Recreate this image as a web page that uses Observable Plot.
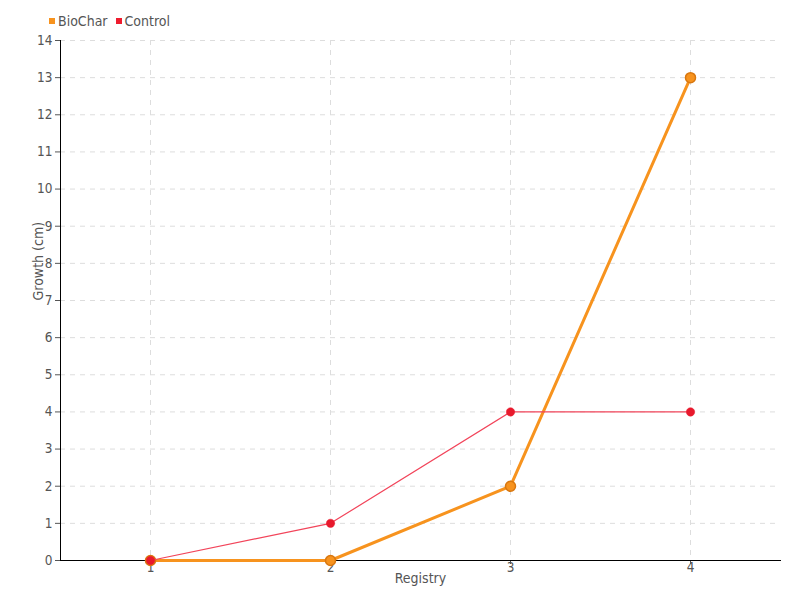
<!DOCTYPE html>
<html>
<head>
<meta charset="utf-8">
<script src="https://cdn.jsdelivr.net/npm/d3@7"></script>
<script src="https://cdn.jsdelivr.net/npm/@observablehq/plot@0.6"></script>
<style>
  body { margin: 0; background: #fff; }
  #wrap { position: relative; width: 800px; height: 600px; font-family: "DejaVu Sans", sans-serif; font-stretch: condensed; }
  #wrap svg text { font-stretch: condensed; }
  #legend { position: absolute; top: 13px; left: 49px; font-size: 14px; color: #555; display: flex; gap: 8px; align-items: center; }
  #legend span.sw { display: inline-block; width: 6px; height: 6px; margin-right: 3px; vertical-align: middle; position: relative; top: -1px; }
</style>
</head>
<body>
<div id="wrap"><div id="legend"></div></div>
<script>
const registry = ["1", "2", "3", "4"];
const bioChar = [0, 0, 2, 13];
const control = [0, 1, 4, 4];
const seriesNames = ["BioChar", "Control"];
const seriesColors = ["#f7931e", "#ee1c2e"];
const yTicks = d3.range(0, 15);

const bio = registry.map((r, i) => ({r, v: bioChar[i]}));
const ctl = registry.map((r, i) => ({r, v: control[i]}));

const plot = Plot.plot({
  width: 800,
  height: 600,
  marginLeft: 60,
  marginRight: 20,
  marginTop: 40,
  marginBottom: 40,
  style: {fontFamily: '"DejaVu Sans", sans-serif', fontSize: "13px", color: "#555", background: "#fff"},
  x: {type: "point", domain: registry, padding: 0.5},
  y: {domain: [0, 14]},
  marks: [
    Plot.gridX(registry, {stroke: "#ddd", strokeOpacity: 1, strokeDasharray: "5,5"}),
    Plot.gridY(yTicks, {stroke: "#ddd", strokeOpacity: 1, strokeDasharray: "5,5"}),
    Plot.axisY({ticks: yTicks, tickSize: 5, tickPadding: 3, label: null, fontSize: 13.5}),
    Plot.axisX({tickSize: 4, tickPadding: -2, label: null, fontSize: 13.5}),
    Plot.frame({anchor: "left", stroke: "#000"}),
    Plot.frame({anchor: "bottom", stroke: "#000"}),
    Plot.line(bio, {x: "r", y: "v", stroke: seriesColors[0], strokeWidth: 3}),
    Plot.dot(bio, {x: "r", y: "v", r: 5, fill: seriesColors[0], stroke: "#d9770f", strokeWidth: 1.5}),
    Plot.line(ctl, {x: "r", y: "v", stroke: "#f2445a", strokeWidth: 1.2}),
    Plot.dot(ctl, {x: "r", y: "v", r: 4.2, fill: "#e8192c", stroke: "#e8192c", strokeWidth: 0.5}),
    Plot.text(["Growth (cm)"], {frameAnchor: "left", rotate: -90, dx: -22, fontSize: 14, fill: "#555"}),
    Plot.text(["Registry"], {frameAnchor: "bottom", dy: 22, fontSize: 14, fill: "#555"})
  ]
});
document.getElementById("wrap").prepend(plot);

const legend = document.getElementById("legend");
seriesNames.forEach((name, i) => {
  const item = document.createElement("div");
  const sw = document.createElement("span");
  sw.className = "sw";
  sw.style.background = seriesColors[i];
  item.appendChild(sw);
  item.appendChild(document.createTextNode(name));
  legend.appendChild(item);
});
</script>
</body>
</html>
